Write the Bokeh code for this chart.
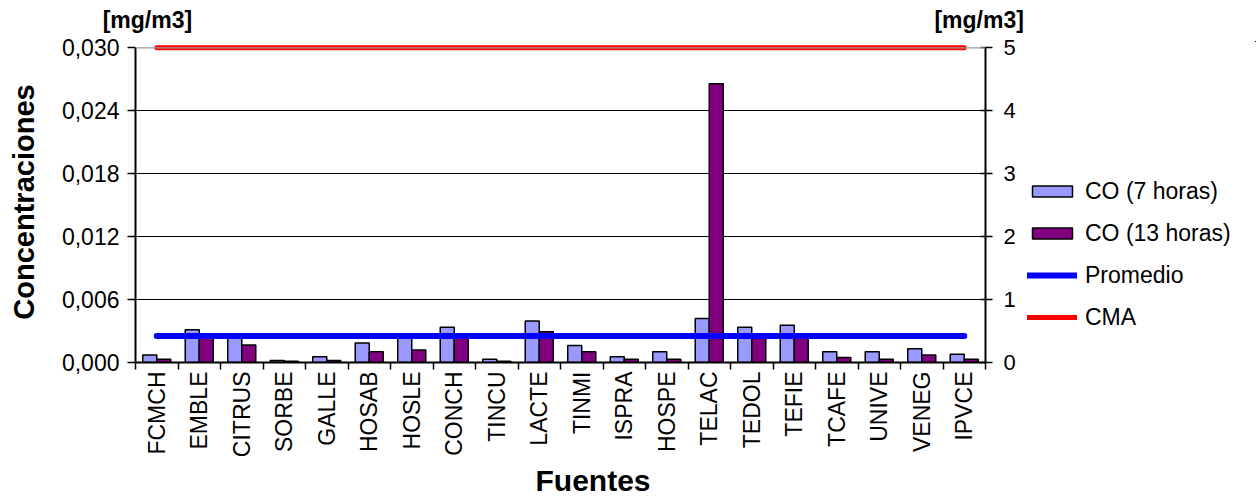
import math

from bokeh.plotting import figure
from bokeh.layouts import row
from bokeh.models import (Range1d, LinearAxis, FixedTicker, Legend, LegendItem,
                          Span, Title)
from bokeh.embed import file_html
from bokeh.resources import INLINE

# Emission sources (x categories)
FUENTES = ["FCMCH", "EMBLE", "CITRUS", "SORBE", "GALLE", "HOSAB", "HOSLE",
           "CONCH", "TINCU", "LACTE", "TINMI", "ISPRA", "HOSPE", "TELAC",
           "TEDOL", "TEFIE", "TCAFE", "UNIVE", "VENEG", "IPVCE"]

# CO concentrations [mg/m3]
CO_7H = [0.12, 0.52, 0.45, 0.03, 0.09, 0.31, 0.45, 0.56, 0.05, 0.66,
         0.27, 0.09, 0.17, 0.70, 0.56, 0.59, 0.17, 0.17, 0.22, 0.13]
CO_13H = [0.05, 0.44, 0.28, 0.02, 0.03, 0.17, 0.20, 0.43, 0.02, 0.49,
          0.17, 0.05, 0.05, 4.43, 0.43, 0.43, 0.08, 0.05, 0.12, 0.05]

PROMEDIO = 0.42   # mean value
CMA = 5.0         # maximum admissible concentration

# Axis ticks
MGM3_TICKS = [0, 1, 2, 3, 4, 5]
CONC_TICKS = [0.0, 0.006, 0.012, 0.018, 0.024, 0.030]
CONC_LABELS = ["0,000", "0,006", "0,012", "0,018", "0,024", "0,030"]
UNIT = "[mg/m3]"

SERIES = ["CO (7 horas)", "CO (13 horas)", "Promedio", "CMA"]
C7, C13, C_PROM, C_CMA = "#9999FF", "#800080", "#0000FF", "#FF0000"

FONT = "Liberation Sans"
n = len(FUENTES)
centers = [i + 0.5 for i in range(n)]
bar_w = 0.33
top_pad = 1.02   # a little room above the CMA line so it is not clipped


def add_series(fig):
    """Draw the two bar series and the two reference lines on a figure."""
    x7 = [c - bar_w / 2 for c in centers]
    x13 = [c + bar_w / 2 for c in centers]
    r7 = fig.vbar(x=x7, top=CO_7H, width=bar_w, bottom=0,
                  fill_color=C7, line_color="black", line_width=1.5)
    r13 = fig.vbar(x=x13, top=CO_13H, width=bar_w, bottom=0,
                   fill_color=C13, line_color="black", line_width=1.5)
    rp = fig.line(x=centers, y=[PROMEDIO] * n, line_color=C_PROM,
                  line_width=6, line_cap="round")
    rc = fig.line(x=centers, y=[CMA] * n, line_color=C_CMA,
                  line_width=5, line_cap="round")
    return [r7, r13, rp, rc]


p = figure(width=1025, height=499, x_range=Range1d(0, n),
           y_range=Range1d(0, CMA * top_pad), y_axis_location="right",
           output_backend="svg", toolbar_location=None,
           min_border_left=135, min_border_right=40,
           min_border_top=41, min_border_bottom=137)
p.extra_y_ranges = {"conc": Range1d(0, CONC_TICKS[-1] * top_pad)}
p.background_fill_color = "white"
p.border_fill_color = "white"
p.outline_line_color = None

xa = p.below[0]   # category axis
ra = p.right[0]   # mg/m3 axis

# gridlines
p.xgrid.visible = False
p.ygrid.ticker = FixedTicker(ticks=MGM3_TICKS[1:-1])
p.ygrid.grid_line_color = "black"
p.ygrid.grid_line_width = 1.2
p.add_layout(Span(location=MGM3_TICKS[-1], dimension="width",
                  line_color="#9a9a9a", line_width=1.2))

# right axis (mg/m3, 0-5)
ra.ticker = FixedTicker(ticks=MGM3_TICKS)
ra.bounds = (MGM3_TICKS[0], MGM3_TICKS[-1])
ra.axis_line_width = 2
ra.major_tick_line_width = 1.5
ra.major_tick_out = 7
ra.major_tick_in = 5
ra.minor_tick_line_color = None
ra.major_label_standoff = 11
ra.major_label_text_font = FONT
ra.major_label_text_font_size = "22px"
ra.major_label_text_color = "black"

# left axis (concentraciones)
la = LinearAxis(y_range_name="conc", ticker=FixedTicker(ticks=CONC_TICKS),
                major_label_overrides={t: s for t, s in zip(CONC_TICKS, CONC_LABELS)})
la.bounds = (CONC_TICKS[0], CONC_TICKS[-1])
la.axis_label = "Concentraciones"
la.axis_label_text_font = FONT
la.axis_label_text_font_style = "bold"
la.axis_label_text_font_size = "29px"
la.axis_label_text_color = "black"
la.axis_label_standoff = 19
la.axis_line_width = 2
la.major_tick_line_width = 1.5
la.major_tick_out = 8
la.major_tick_in = 0
la.minor_tick_line_color = None
la.major_label_standoff = 8
la.major_label_text_font = FONT
la.major_label_text_font_size = "23px"
la.major_label_text_color = "black"
p.add_layout(la, "left")

# unit captions above both value axes
unit_pos = [0.28, n - 0.15]
ua = LinearAxis(ticker=FixedTicker(ticks=unit_pos),
                major_label_overrides={u: UNIT for u in unit_pos})
ua.axis_line_color = None
ua.major_tick_line_color = None
ua.minor_tick_line_color = None
ua.major_tick_out = 0
ua.major_tick_in = 0
ua.major_label_standoff = 9
ua.major_label_text_font = FONT
ua.major_label_text_font_style = "bold"
ua.major_label_text_font_size = "23px"
ua.major_label_text_color = "black"
p.add_layout(ua, "above")

# category axis: labels at bar-group centres, ticks between groups
xa.ticker = FixedTicker(ticks=centers, minor_ticks=list(range(n + 1)))
xa.major_label_overrides = {c: f for c, f in zip(centers, FUENTES)}
xa.major_label_orientation = math.pi / 2
xa.major_label_text_font = FONT
xa.major_label_text_font_size = "23px"
xa.major_label_text_color = "black"
xa.major_label_standoff = 2
xa.major_tick_line_color = None
xa.major_tick_out = 7
xa.major_tick_in = 0
xa.minor_tick_line_color = "black"
xa.minor_tick_line_width = 1.5
xa.minor_tick_out = 7
xa.minor_tick_in = 0
xa.axis_line_width = 2

p.add_layout(Title(text="Fuentes", align="left", offset=400,
                   text_font=FONT, text_font_style="bold",
                   text_font_size="30px", text_color="black",
                   standoff=2), "below")

add_series(p)

# legend panel to the right of the chart; its series lie outside the view,
# only their legend keys are shown
pl = figure(width=231, height=499, x_range=Range1d(-3, -2),
            y_range=Range1d(-3, -2),
            x_axis_location=None, y_axis_location=None,
            output_backend="svg", toolbar_location=None, min_border=0)
pl.outline_line_color = None
pl.grid.visible = False
pl.background_fill_color = "white"
pl.border_fill_color = "white"
keys = add_series(pl)

legend = Legend(items=[LegendItem(label=s, renderers=[r])
                       for s, r in zip(SERIES, keys)],
                location=(2, 30))
legend.border_line_color = None
legend.background_fill_alpha = 0
legend.padding = 0
legend.margin = 0
legend.glyph_width = 50
legend.glyph_height = 14
legend.label_height = 30
legend.spacing = 12
legend.label_standoff = 8
legend.label_text_font = FONT
legend.label_text_font_size = "23px"
legend.label_text_color = "black"
pl.add_layout(legend, "center")

layout = row(p, pl)
open("out.html", "w").write(file_html(layout, INLINE))
